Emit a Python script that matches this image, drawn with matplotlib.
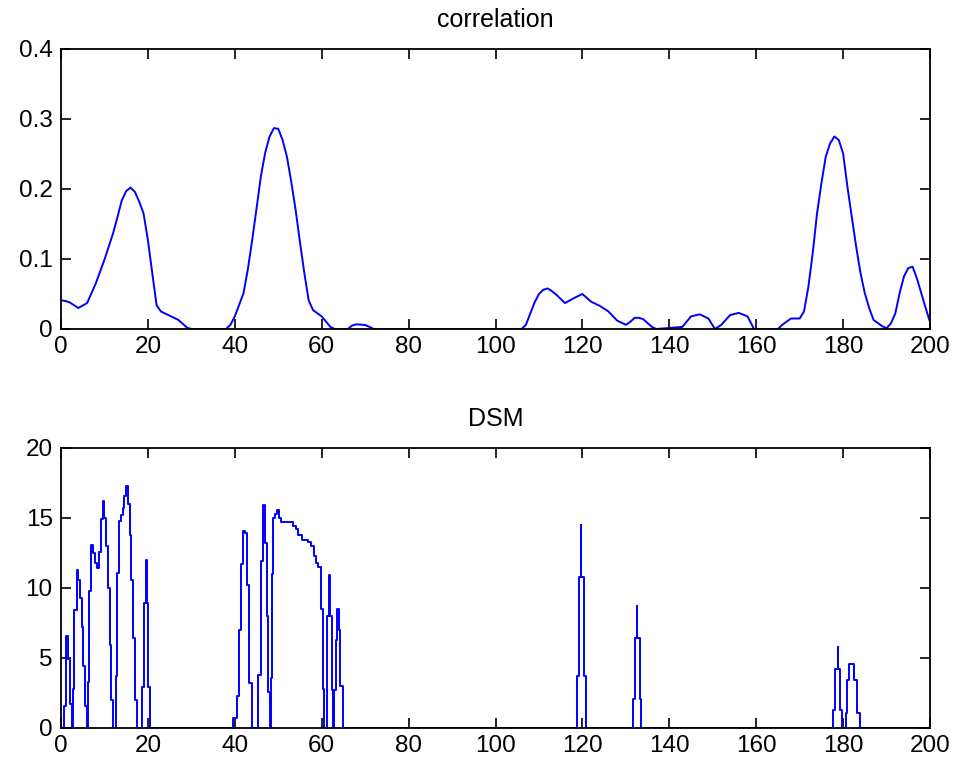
import matplotlib
matplotlib.use("Agg")
import matplotlib.pyplot as plt

plt.rcParams["font.family"] = ["Liberation Sans", "DejaVu Sans"]

# correlation curve
corr_x = [0, 1, 2, 4, 6, 8, 10, 12, 13, 14, 15, 16, 17, 18, 19, 20, 21, 22, 23, 25, 27, 29, 30,
          38, 39, 40, 42, 43, 44, 45, 46, 47, 48, 49, 50, 51, 52, 53, 54, 55, 56, 57, 58, 60, 62, 63,
          66, 67, 68, 70, 71, 72,
          106, 107, 108, 109, 110, 111, 112, 113, 114, 116, 118, 120, 122, 124, 126, 128, 130,
          131, 132, 133, 134, 136, 137,
          143, 145, 147, 149, 150.5, 152, 154, 156, 158, 159.5,
          165, 166, 168, 170, 171, 172, 173, 174, 175, 176, 177, 178, 179, 180, 181, 182,
          183, 184, 185, 186, 187, 189, 190, 191, 192, 193, 194, 195, 196, 197, 198, 199, 200]
corr_y = [0.041, 0.040, 0.038, 0.030, 0.037, 0.065, 0.099, 0.137, 0.160, 0.184, 0.197, 0.202,
          0.196, 0.182, 0.165, 0.127, 0.080, 0.034, 0.025, 0.019, 0.013, 0.002, 0.0,
          0.0, 0.006, 0.018, 0.051, 0.085, 0.127, 0.172, 0.218, 0.252, 0.275, 0.287, 0.286,
          0.270, 0.246, 0.210, 0.170, 0.124, 0.080, 0.041, 0.027, 0.018, 0.003, 0.0,
          0.0, 0.005, 0.0067, 0.0057, 0.003, 0.0,
          0.0, 0.006, 0.022, 0.038, 0.050, 0.056, 0.058, 0.054, 0.049, 0.037, 0.044, 0.050,
          0.039, 0.033, 0.025, 0.012, 0.006, 0.010, 0.016, 0.016, 0.014, 0.003, 0.0,
          0.003, 0.018, 0.021, 0.015, 0.0, 0.006, 0.020, 0.023, 0.018, 0.0,
          0.0, 0.006, 0.015, 0.015, 0.025, 0.060, 0.108, 0.165, 0.208, 0.246, 0.265, 0.275,
          0.270, 0.251, 0.203, 0.160, 0.118, 0.080, 0.051, 0.030, 0.013, 0.004, 0.001, 0.008,
          0.022, 0.051, 0.075, 0.087, 0.089, 0.072, 0.051, 0.030, 0.010]

# DSM: each level starts at dsm_x[i] and holds until dsm_x[i+1]
dsm_x = [0, 0.6, 1.1, 1.6, 2.1, 2.6, 2.8, 3.1, 3.6, 3.9, 4.3, 4.8, 5.1, 5.5, 5.9,
         6.2, 6.5, 7.0, 7.4, 7.8, 8.3, 8.7, 9.2, 9.6, 10.0, 10.4, 10.8, 11.2, 11.6, 11.9,
         12.6, 13.0, 13.4, 13.8, 14.2, 14.6, 15.0, 15.4, 15.8, 16.2, 16.6, 17.0, 17.5, 18.1,
         18.7, 19.1, 19.6, 19.7, 20.1, 20.5, 20.9,
         39.7, 40.4, 40.9, 41.4, 41.8, 42.4, 42.9, 43.3, 43.9,
         45.4, 46.0, 46.6, 47.0, 47.3, 47.6, 48.0, 48.3, 48.5, 48.9, 49.3, 49.8, 50.2, 50.6,
         53.3, 54.1, 54.6, 55.4, 56.9, 57.6, 58.2, 58.8, 59.2, 59.8, 60.2, 60.6,
         61.2, 61.6, 61.9, 62.3, 62.7, 62.9, 63.2, 63.6, 63.9, 64.3, 64.8,
         118.7, 119.2, 119.7, 119.75, 120.3, 120.8,
         131.6, 132.1, 132.6, 132.65, 133.2, 133.6,
         177.75, 178.2, 178.75, 178.8, 179.2, 179.7,
         180.6, 181.0, 181.4, 182.1, 182.6, 183.1, 183.9, 200]
dsm_y = [0, 1.6, 6.6, 4.9, 1.7, 0, 2.8, 8.4, 11.3, 10.6, 9.3, 7.2, 4.4, 1.6, 0,
         3.3, 9.8, 13.1, 12.5, 11.8, 11.4, 12.6, 14.9, 16.2, 15.0, 13.0, 10.0, 5.9, 2.0, 0,
         3.7, 11.1, 14.8, 15.2, 15.7, 16.6, 17.3, 16.0, 13.8, 10.6, 6.4, 2.0, 0, 0,
         2.9, 8.9, 12.0, 8.9, 2.9, 0, 0,
         0.7, 2.3, 7.0, 11.7, 14.1, 13.9, 10.2, 3.2, 0,
         3.8, 11.9, 15.9, 13.2, 8.0, 2.6, 0, 3.6, 11.0, 15.0, 15.3, 15.6, 15.0, 14.7,
         14.4, 14.2, 13.8, 13.4, 13.3, 13.0, 12.3, 11.8, 11.5, 8.5, 2.8, 0,
         8.0, 10.9, 8.0, 2.7, 0, 2.7, 6.3, 8.5, 7.0, 3.0, 0,
         3.7, 10.8, 14.5, 10.8, 3.7, 0,
         2.1, 6.4, 8.7, 6.4, 2.1, 0,
         1.3, 4.2, 5.8, 4.2, 1.3, 0,
         1.1, 3.4, 4.6, 4.55, 3.4, 1.1, 0, 0]

x_ticks = list(range(0, 201, 20))
corr_ticks = [0, 0.1, 0.2, 0.3, 0.4]
corr_labels = ["0", "0.1", "0.2", "0.3", "0.4"]
dsm_ticks = [0, 5, 10, 15, 20]

W, H = 954, 764
fig = plt.figure(figsize=(W / 100, H / 100), dpi=100)
ax1 = fig.add_axes([61 / W, 1 - 329 / H, 869 / W, 280 / H])
ax2 = fig.add_axes([61 / W, 1 - 728 / H, 869 / W, 280 / H])

ax1.plot(corr_x, corr_y, color="#0000ff", lw=1.4)
ax1.set_ylim(0, 0.4)
ax1.set_yticks(corr_ticks)
ax1.set_yticklabels(corr_labels)
ax1.set_title("correlation", fontsize=18, pad=16)

ax2.step(dsm_x, dsm_y, where="post", color="#0000ff", lw=1.4)
ax2.set_ylim(0, 20)
ax2.set_yticks(dsm_ticks)
ax2.set_title("DSM", fontsize=18, pad=16)

for ax in (ax1, ax2):
    ax.set_xlim(0, 200)
    ax.set_xticks(x_ticks)
    ax.tick_params(direction="in", length=7, width=1.2, top=True, right=True,
                   labelsize=17.5, pad=6, colors="black")
    ax.tick_params(axis="x", pad=5)
    for sp in ax.spines.values():
        sp.set_linewidth(1.3)

fig.savefig("out.png", dpi=100)
